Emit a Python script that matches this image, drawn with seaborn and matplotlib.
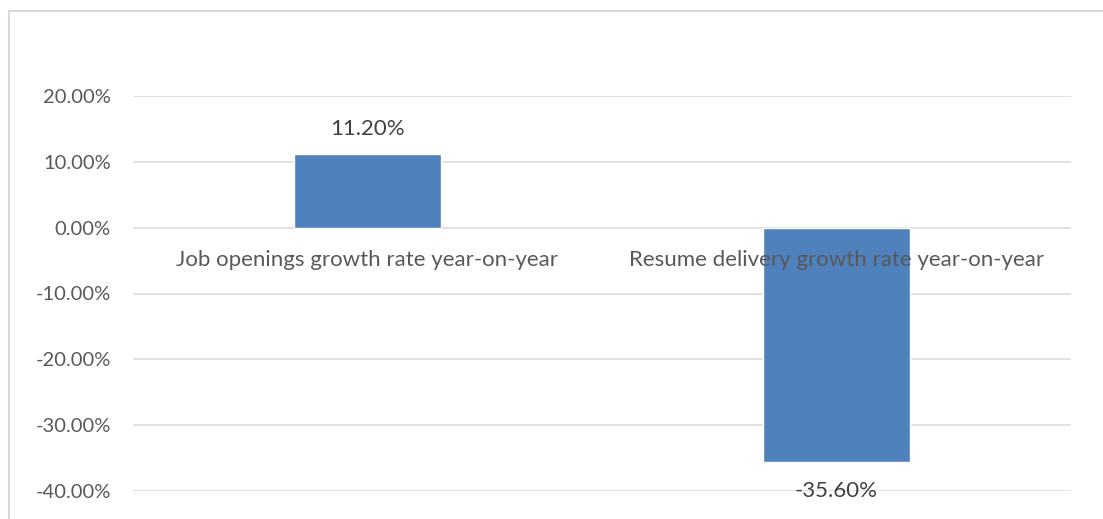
import matplotlib
matplotlib.use("Agg")
import matplotlib.pyplot as plt
import seaborn as sns
import pandas as pd
from matplotlib.lines import Line2D

categories = ["Job openings growth rate year-on-year",
              "Resume delivery growth rate year-on-year"]
values = [0.112, -0.356]
value_labels = ["11.20%", "-35.60%"]
y_ticks = [-0.4, -0.3, -0.2, -0.1, 0.0, 0.1, 0.2]

sns.set_theme(style="white")
plt.rcParams['font.family'] = ['Lato', 'DejaVu Sans']

W, H = 1103, 519
fig = plt.figure(figsize=(W / 100, H / 100), dpi=100)
ax = fig.add_axes([133 / W, 1 - 491 / H, (1071 - 133) / W, (491 - 96) / H])

df = pd.DataFrame({"cat": categories, "val": values})
sns.barplot(data=df, x="cat", y="val", hue="cat", palette=["#4F81BD", "#4F81BD"],
            width=0.315, legend=False, ax=ax, zorder=2, saturation=1)

ax.set_ylim(-0.4, 0.2)
ax.set_xlim(-0.5, 1.5)
ax.set_yticks(y_ticks)
ax.set_yticklabels([f"{t*100:.2f}%" for t in y_ticks], color="#595959", fontsize=14.5)
ax.tick_params(axis="y", length=0, pad=16)
ax.set_xticks([])
ax.set_xlabel("")
ax.set_ylabel("")
for s in ax.spines.values():
    s.set_visible(False)
ax.yaxis.grid(True, color="#D9D9D9", linewidth=1.1, zorder=0)
ax.set_axisbelow(True)

for i, c in enumerate(categories):
    ax.annotate(c, xy=(i, 0), xytext=(0, -23), textcoords="offset points",
                ha="center", va="center", fontsize=16, color="#595959", zorder=5)

for i, (v, lab) in enumerate(zip(values, value_labels)):
    off = 18 if v > 0 else -21
    ax.annotate(lab, xy=(i, v), xytext=(0, off), textcoords="offset points",
                ha="center", va="center", fontsize=16, color="#404040", zorder=5)

# chart area border (top and left visible in the cropped image)
fig.add_artist(Line2D([9 / W, 9 / W], [0, 1 - 11 / H], transform=fig.transFigure,
                      color="#D9D9D9", linewidth=1.5))
fig.add_artist(Line2D([9 / W, 1], [1 - 11 / H, 1 - 11 / H], transform=fig.transFigure,
                      color="#D9D9D9", linewidth=1.5))

fig.savefig("out.png", dpi=100, facecolor="white")
